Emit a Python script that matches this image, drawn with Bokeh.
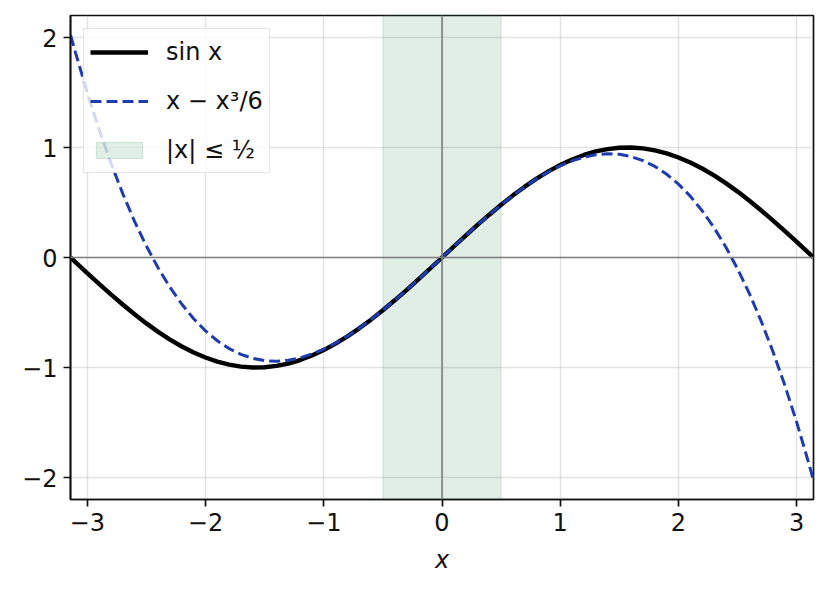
from bokeh.plotting import figure
from bokeh.models import Legend, LegendItem, FixedTicker, Span, Range1d
from bokeh.embed import file_html
from bokeh.resources import INLINE

# ---- data ----
x_vals = [-3.14, -3.1, -3.0, -2.9, -2.8, -2.7, -2.6, -2.5, -2.4, -2.3, -2.2, -2.1, -2.0,
          -1.9, -1.8, -1.7, -1.6, -1.5, -1.4, -1.3, -1.2, -1.1, -1.0, -0.9, -0.8, -0.7,
          -0.6, -0.5, -0.4, -0.3, -0.2, -0.1, 0.0, 0.1, 0.2, 0.3, 0.4, 0.5, 0.6, 0.7,
          0.8, 0.9, 1.0, 1.1, 1.2, 1.3, 1.4, 1.5, 1.6, 1.7, 1.8, 1.9, 2.0, 2.1, 2.2,
          2.3, 2.4, 2.5, 2.6, 2.7, 2.8, 2.9, 3.0, 3.1, 3.14]
sin_vals = [-0.002, -0.042, -0.141, -0.239, -0.335, -0.427, -0.516, -0.599, -0.676, -0.746,
            -0.809, -0.863, -0.909, -0.946, -0.974, -0.992, -1.000, -0.998, -0.985, -0.964,
            -0.932, -0.891, -0.842, -0.783, -0.717, -0.644, -0.565, -0.479, -0.389, -0.296,
            -0.199, -0.100, 0.000, 0.100, 0.199, 0.296, 0.389, 0.479, 0.565, 0.644, 0.717,
            0.783, 0.842, 0.891, 0.932, 0.964, 0.985, 0.998, 1.000, 0.992, 0.974, 0.946,
            0.909, 0.863, 0.809, 0.746, 0.676, 0.599, 0.516, 0.427, 0.335, 0.239, 0.141,
            0.042, 0.002]
cubic_vals = [2.020, 1.865, 1.500, 1.165, 0.859, 0.581, 0.329, 0.104, -0.096, -0.272,
              -0.425, -0.557, -0.667, -0.757, -0.828, -0.881, -0.917, -0.938, -0.943, -0.934,
              -0.912, -0.878, -0.833, -0.779, -0.715, -0.643, -0.564, -0.479, -0.389, -0.296,
              -0.199, -0.100, 0.000, 0.100, 0.199, 0.296, 0.389, 0.479, 0.564, 0.643, 0.715,
              0.779, 0.833, 0.878, 0.912, 0.934, 0.943, 0.938, 0.917, 0.881, 0.828, 0.757,
              0.667, 0.557, 0.425, 0.272, 0.096, -0.104, -0.329, -0.581, -0.859, -1.165,
              -1.500, -1.865, -2.020]
band_lo, band_hi = -0.5, 0.5
x_ticks = [-3, -2, -1, 0, 1, 2, 3]
y_ticks = [-2, -1, 0, 1, 2]
x_lim = (-3.14159, 3.14159)
y_lim = (-2.2, 2.2)
labels = ["sin x", "x − x³/6", "|x| ≤ ½"]

FONT = "DejaVu Sans"
FS = "24px"

p = figure(frame_width=743, frame_height=484, output_backend="svg", toolbar_location=None,
           x_range=Range1d(*x_lim), y_range=Range1d(*y_lim),
           min_border_left=70, min_border_right=7, min_border_top=15, min_border_bottom=77)
p.background_fill_color = "white"
p.border_fill_color = "white"
p.outline_line_color = "#111111"
p.outline_line_width = 1.7

# grid
p.xgrid.grid_line_color = "#b0b0b0"
p.ygrid.grid_line_color = "#b0b0b0"
p.xgrid.grid_line_alpha = 0.35
p.ygrid.grid_line_alpha = 0.35
p.xgrid.grid_line_width = 1.5
p.ygrid.grid_line_width = 1.5

for ax, ticks in ((p.xaxis[0], x_ticks), (p.yaxis[0], y_ticks)):
    ax.ticker = FixedTicker(ticks=ticks)
    ax.major_label_overrides = {t: (str(t).replace("-", "−")) for t in ticks}
    ax.minor_tick_line_color = None
    ax.major_tick_in = 0
    ax.major_tick_out = 7
    ax.major_tick_line_width = 1.7
    ax.major_tick_line_color = "#111111"
    ax.axis_line_color = "#111111"
    ax.axis_line_width = 1.7
    ax.major_label_text_font = FONT
    ax.major_label_text_font_size = FS
    ax.major_label_text_color = "#111111"
    ax.major_label_standoff = 6
p.xaxis[0].axis_label = "x"
p.xaxis[0].axis_label_text_font = FONT
p.xaxis[0].axis_label_text_font_size = FS
p.xaxis[0].axis_label_text_font_style = "italic"
p.xaxis[0].axis_label_text_color = "#111111"
p.xaxis[0].axis_label_standoff = 12

# shaded band
band = p.quad(left=[band_lo], right=[band_hi], bottom=[y_lim[0]], top=[y_lim[1]],
              fill_color="seagreen", fill_alpha=0.15, line_color="seagreen", line_alpha=0.18)

# zero lines
p.add_layout(Span(location=0, dimension="width", line_color="gray", line_width=1.6))
p.add_layout(Span(location=0, dimension="height", line_color="gray", line_width=1.6))

l_sin = p.line(x_vals, sin_vals, line_color="black", line_width=4.4)
l_cub = p.line(x_vals, cubic_vals, line_color="#1f3caf", line_width=3, line_dash="11 5")

legend = Legend(items=[LegendItem(label=labels[0], renderers=[l_sin]),
                       LegendItem(label=labels[1], renderers=[l_cub]),
                       LegendItem(label=labels[2], renderers=[band])],
                location="top_left")
legend.margin = 13
legend.padding = 6
legend.spacing = 16
legend.glyph_width = 58
legend.glyph_height = 20
legend.label_height = 33
legend.label_standoff = 18
legend.label_text_font = FONT
legend.label_text_font_size = FS
legend.label_text_color = "#111111"
legend.border_line_color = "#cccccc"
legend.border_line_width = 1.5
legend.background_fill_alpha = 0.8
p.add_layout(legend)

open("out.html", "w").write(file_html(p, INLINE))
